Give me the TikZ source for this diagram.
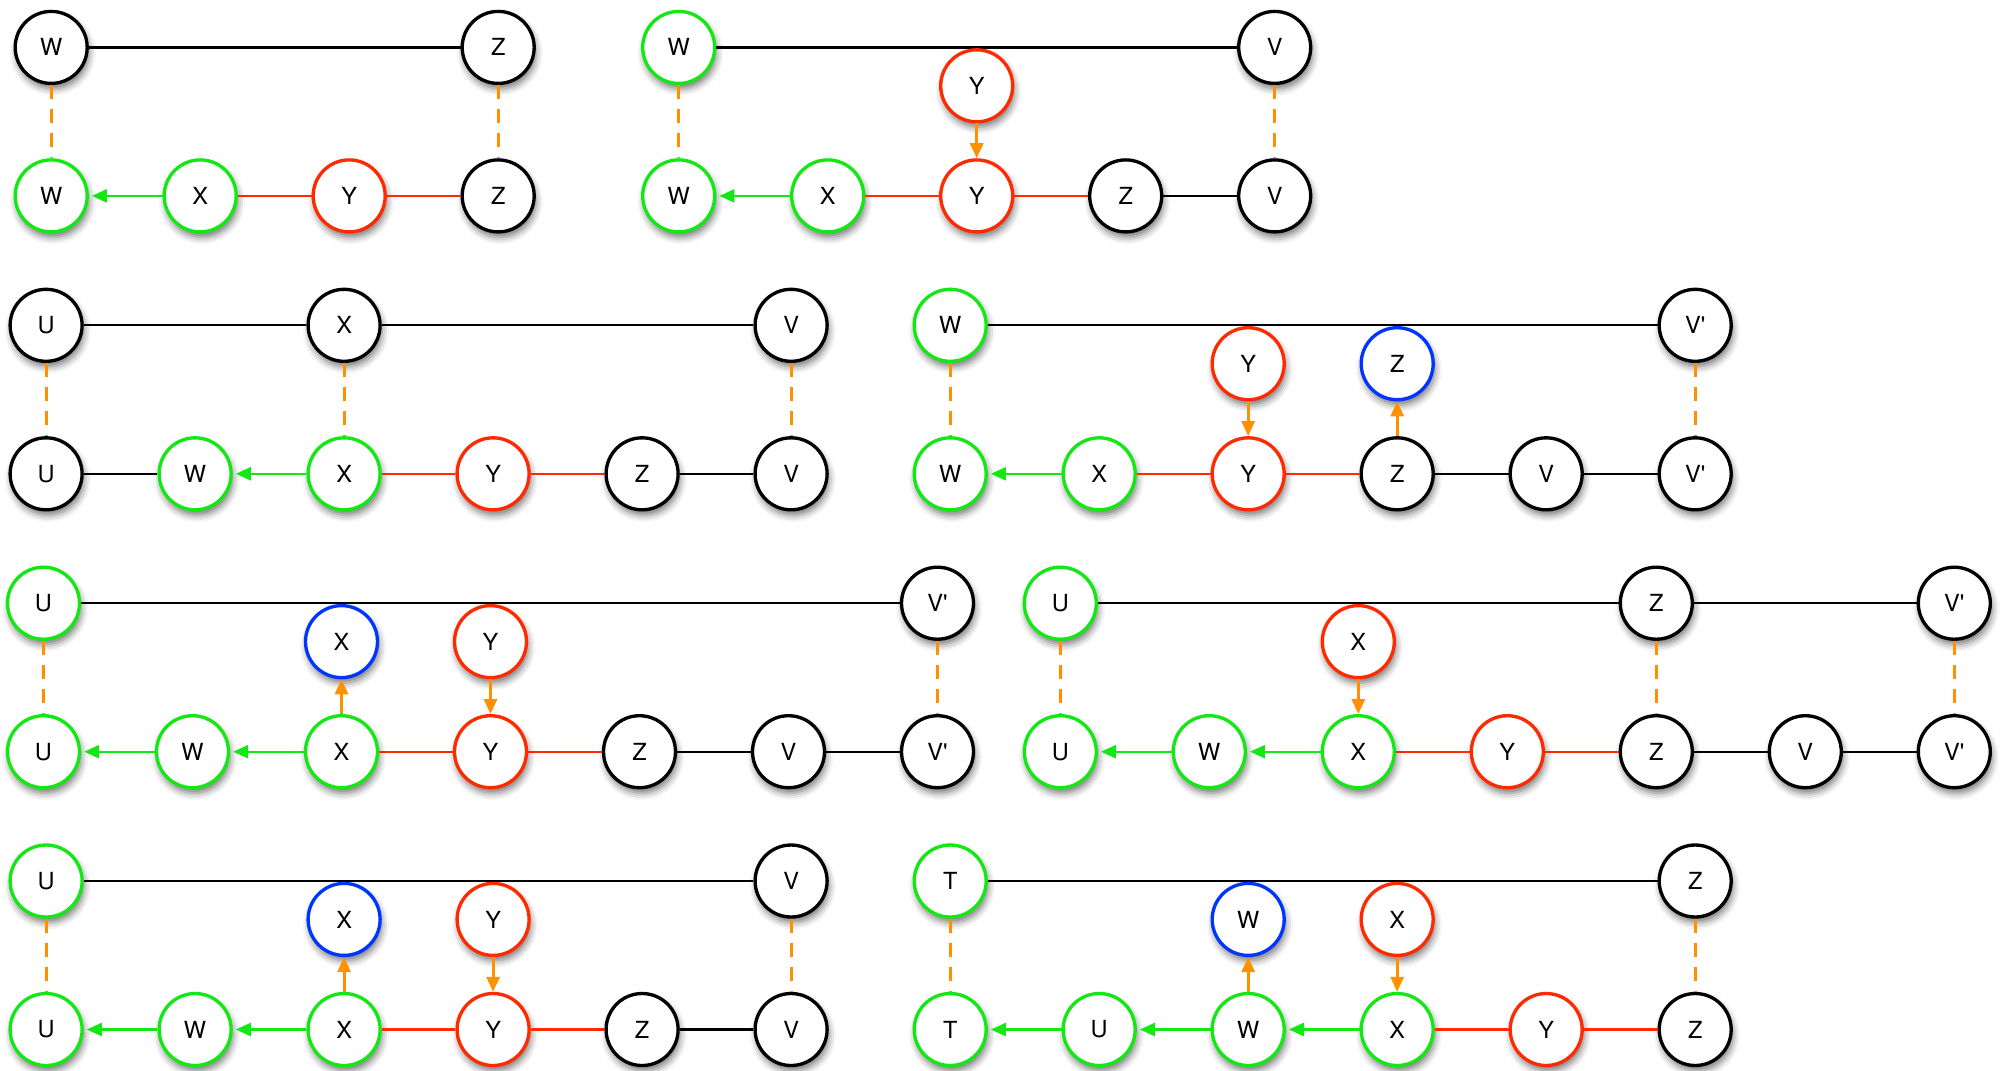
\documentclass[tikz,border=0pt]{standalone}
\usepackage{fontspec}
\setmainfont{TeX Gyre Heros}
\usetikzlibrary{arrows.meta,positioning,shadows.blur}
\definecolor{vgreen}{RGB}{20,232,20}
\definecolor{vred}{RGB}{255,42,0}
\definecolor{vblue}{RGB}{0,52,255}
\definecolor{vorange}{RGB}{255,145,0}
\newcommand{\Vp}{V\textquotesingle}
\tikzset{
  vtx/.style={circle, draw=black, line width=0.95pt, fill=white, minimum size=0.72cm,
              inner sep=0pt, font=\fontsize{6.7}{8}\selectfont,
              blur shadow={shadow xshift=0.5pt, shadow yshift=-1.5pt,
                           shadow blur radius=2pt, shadow opacity=55}},
  gvtx/.style={vtx, draw=vgreen},
  rvtx/.style={vtx, draw=vred},
  bvtx/.style={vtx, draw=vblue},
  tedge/.style={black, line width=0.65pt},
  redge/.style={vred, line width=0.65pt},
  garr/.style={-{Triangle[length=1.5mm,width=1.3mm]}, vgreen, line width=0.65pt, shorten >=0.3mm},
  mapln/.style={vorange, line width=0.85pt, dash pattern=on 1.4mm off 1mm},
  oarr/.style={-{Triangle[length=1.5mm,width=1.3mm]}, vorange, line width=0.85pt},
}

\begin{document}
\begin{tikzpicture}
  \useasboundingbox (0,0) rectangle (20.08,-10.70);

  % panel a
  \begin{scope}[shift={(0.512,-0.474)}, x=1.49cm, y=1.485cm]
    \node[vtx] (atW) at (0,0) {W};
    \node[vtx] (atZ) at (3,0) {Z};
    \draw[tedge] (atW) -- (atZ);
    \node[gvtx] (aW) at (0,-1) {W};
    \node[gvtx] (aX) at (1,-1) {X};
    \node[rvtx] (aY) at (2,-1) {Y};
    \node[vtx] (aZ) at (3,-1) {Z};
    \draw[mapln] (atW) -- (aW);
    \draw[mapln] (atZ) -- (aZ);
    \draw[garr] (aX) -- (aW);
    \draw[redge] (aX) -- (aY) -- (aZ);
  \end{scope}

  % panel b
  \begin{scope}[shift={(6.787,-0.474)}, x=1.49cm, y=1.485cm]
    \node[gvtx] (btW) at (0,0) {W};
    \node[vtx] (btV) at (4,0) {V};
    \draw[tedge] (btW) -- (btV);
    \node[rvtx] (bmY) at (2,-0.2586) {Y};
    \node[gvtx] (bW) at (0,-1) {W};
    \node[gvtx] (bX) at (1,-1) {X};
    \node[rvtx] (bY) at (2,-1) {Y};
    \node[vtx] (bZ) at (3,-1) {Z};
    \node[vtx] (bV) at (4,-1) {V};
    \draw[mapln] (btW) -- (bW);
    \draw[mapln] (btV) -- (bV);
    \draw[oarr] (bmY) -- (bY);
    \draw[garr] (bX) -- (bW);
    \draw[redge] (bX) -- (bY) -- (bZ);
    \draw[tedge] (bZ) -- (bV);
  \end{scope}

  % panel c
  \begin{scope}[shift={(0.461,-3.253)}, x=1.49cm, y=1.485cm]
    \node[vtx] (ctU) at (0,0) {U};
    \node[vtx] (ctX) at (2,0) {X};
    \node[vtx] (ctV) at (5,0) {V};
    \draw[tedge] (ctU) -- (ctX) -- (ctV);
    \node[vtx] (cU) at (0,-1) {U};
    \node[gvtx] (cW) at (1,-1) {W};
    \node[gvtx] (cX) at (2,-1) {X};
    \node[rvtx] (cY) at (3,-1) {Y};
    \node[vtx] (cZ) at (4,-1) {Z};
    \node[vtx] (cV) at (5,-1) {V};
    \draw[mapln] (ctU) -- (cU);
    \draw[mapln] (ctX) -- (cX);
    \draw[mapln] (ctV) -- (cV);
    \draw[tedge] (cU) -- (cW);
    \draw[garr] (cX) -- (cW);
    \draw[redge] (cX) -- (cY) -- (cZ);
    \draw[tedge] (cZ) -- (cV);
  \end{scope}

  % panel d
  \begin{scope}[shift={(9.502,-3.253)}, x=1.49cm, y=1.485cm]
    \node[gvtx] (dtW) at (0,0) {W};
    \node[vtx] (dtVp) at (5,0) {\Vp};
    \draw[tedge] (dtW) -- (dtVp);
    \node[rvtx] (dmY) at (2,-0.2586) {Y};
    \node[bvtx] (dmZ) at (3,-0.2586) {Z};
    \node[gvtx] (dW) at (0,-1) {W};
    \node[gvtx] (dX) at (1,-1) {X};
    \node[rvtx] (dY) at (2,-1) {Y};
    \node[vtx] (dZ) at (3,-1) {Z};
    \node[vtx] (dV) at (4,-1) {V};
    \node[vtx] (dVp) at (5,-1) {\Vp};
    \draw[mapln] (dtW) -- (dW);
    \draw[mapln] (dtVp) -- (dVp);
    \draw[oarr] (dmY) -- (dY);
    \draw[oarr] (dZ) -- (dmZ);
    \draw[garr] (dX) -- (dW);
    \draw[redge] (dX) -- (dY) -- (dZ);
    \draw[tedge] (dZ) -- (dV) -- (dVp);
  \end{scope}

  % panel e
  \begin{scope}[shift={(0.435,-6.032)}, x=1.49cm, y=1.485cm]
    \node[gvtx] (etU) at (0,0) {U};
    \node[vtx] (etVp) at (6,0) {\Vp};
    \draw[tedge] (etU) -- (etVp);
    \node[bvtx] (emX) at (2,-0.2586) {X};
    \node[rvtx] (emY) at (3,-0.2586) {Y};
    \node[gvtx] (eU) at (0,-1) {U};
    \node[gvtx] (eW) at (1,-1) {W};
    \node[gvtx] (eX) at (2,-1) {X};
    \node[rvtx] (eY) at (3,-1) {Y};
    \node[vtx] (eZ) at (4,-1) {Z};
    \node[vtx] (eV) at (5,-1) {V};
    \node[vtx] (eVp) at (6,-1) {\Vp};
    \draw[mapln] (etU) -- (eU);
    \draw[mapln] (etVp) -- (eVp);
    \draw[oarr] (eX) -- (emX);
    \draw[oarr] (emY) -- (eY);
    \draw[garr] (eW) -- (eU);
    \draw[garr] (eX) -- (eW);
    \draw[redge] (eX) -- (eY) -- (eZ);
    \draw[tedge] (eZ) -- (eV) -- (eVp);
  \end{scope}

  % panel f
  \begin{scope}[shift={(10.603,-6.032)}, x=1.49cm, y=1.485cm]
    \node[gvtx] (ftU) at (0,0) {U};
    \node[vtx] (ftZ) at (4,0) {Z};
    \node[vtx] (ftVp) at (6,0) {\Vp};
    \draw[tedge] (ftU) -- (ftZ) -- (ftVp);
    \node[rvtx] (fmX) at (2,-0.2586) {X};
    \node[gvtx] (fU) at (0,-1) {U};
    \node[gvtx] (fW) at (1,-1) {W};
    \node[gvtx] (fX) at (2,-1) {X};
    \node[rvtx] (fY) at (3,-1) {Y};
    \node[vtx] (fZ) at (4,-1) {Z};
    \node[vtx] (fV) at (5,-1) {V};
    \node[vtx] (fVp) at (6,-1) {\Vp};
    \draw[mapln] (ftU) -- (fU);
    \draw[mapln] (ftZ) -- (fZ);
    \draw[mapln] (ftVp) -- (fVp);
    \draw[oarr] (fmX) -- (fX);
    \draw[garr] (fW) -- (fU);
    \draw[garr] (fX) -- (fW);
    \draw[redge] (fX) -- (fY) -- (fZ);
    \draw[tedge] (fZ) -- (fV) -- (fVp);
  \end{scope}

  % panel g
  \begin{scope}[shift={(0.461,-8.810)}, x=1.49cm, y=1.485cm]
    \node[gvtx] (gtU) at (0,0) {U};
    \node[vtx] (gtV) at (5,0) {V};
    \draw[tedge] (gtU) -- (gtV);
    \node[bvtx] (gmX) at (2,-0.2586) {X};
    \node[rvtx] (gmY) at (3,-0.2586) {Y};
    \node[gvtx] (gU) at (0,-1) {U};
    \node[gvtx] (gW) at (1,-1) {W};
    \node[gvtx] (gX) at (2,-1) {X};
    \node[rvtx] (gY) at (3,-1) {Y};
    \node[vtx] (gZ) at (4,-1) {Z};
    \node[vtx] (gV) at (5,-1) {V};
    \draw[mapln] (gtU) -- (gU);
    \draw[mapln] (gtV) -- (gV);
    \draw[oarr] (gX) -- (gmX);
    \draw[oarr] (gmY) -- (gY);
    \draw[garr] (gW) -- (gU);
    \draw[garr] (gX) -- (gW);
    \draw[redge] (gX) -- (gY) -- (gZ);
    \draw[tedge] (gZ) -- (gV);
  \end{scope}

  % panel h
  \begin{scope}[shift={(9.502,-8.810)}, x=1.49cm, y=1.485cm]
    \node[gvtx] (htT) at (0,0) {T};
    \node[vtx] (htZ) at (5,0) {Z};
    \draw[tedge] (htT) -- (htZ);
    \node[bvtx] (hmW) at (2,-0.2586) {W};
    \node[rvtx] (hmX) at (3,-0.2586) {X};
    \node[gvtx] (hT) at (0,-1) {T};
    \node[gvtx] (hU) at (1,-1) {U};
    \node[gvtx] (hW) at (2,-1) {W};
    \node[gvtx] (hX) at (3,-1) {X};
    \node[rvtx] (hY) at (4,-1) {Y};
    \node[vtx] (hZ) at (5,-1) {Z};
    \draw[mapln] (htT) -- (hT);
    \draw[mapln] (htZ) -- (hZ);
    \draw[oarr] (hW) -- (hmW);
    \draw[oarr] (hmX) -- (hX);
    \draw[garr] (hU) -- (hT);
    \draw[garr] (hW) -- (hU);
    \draw[garr] (hX) -- (hW);
    \draw[redge] (hX) -- (hY) -- (hZ);
  \end{scope}
\end{tikzpicture}
\end{document}
